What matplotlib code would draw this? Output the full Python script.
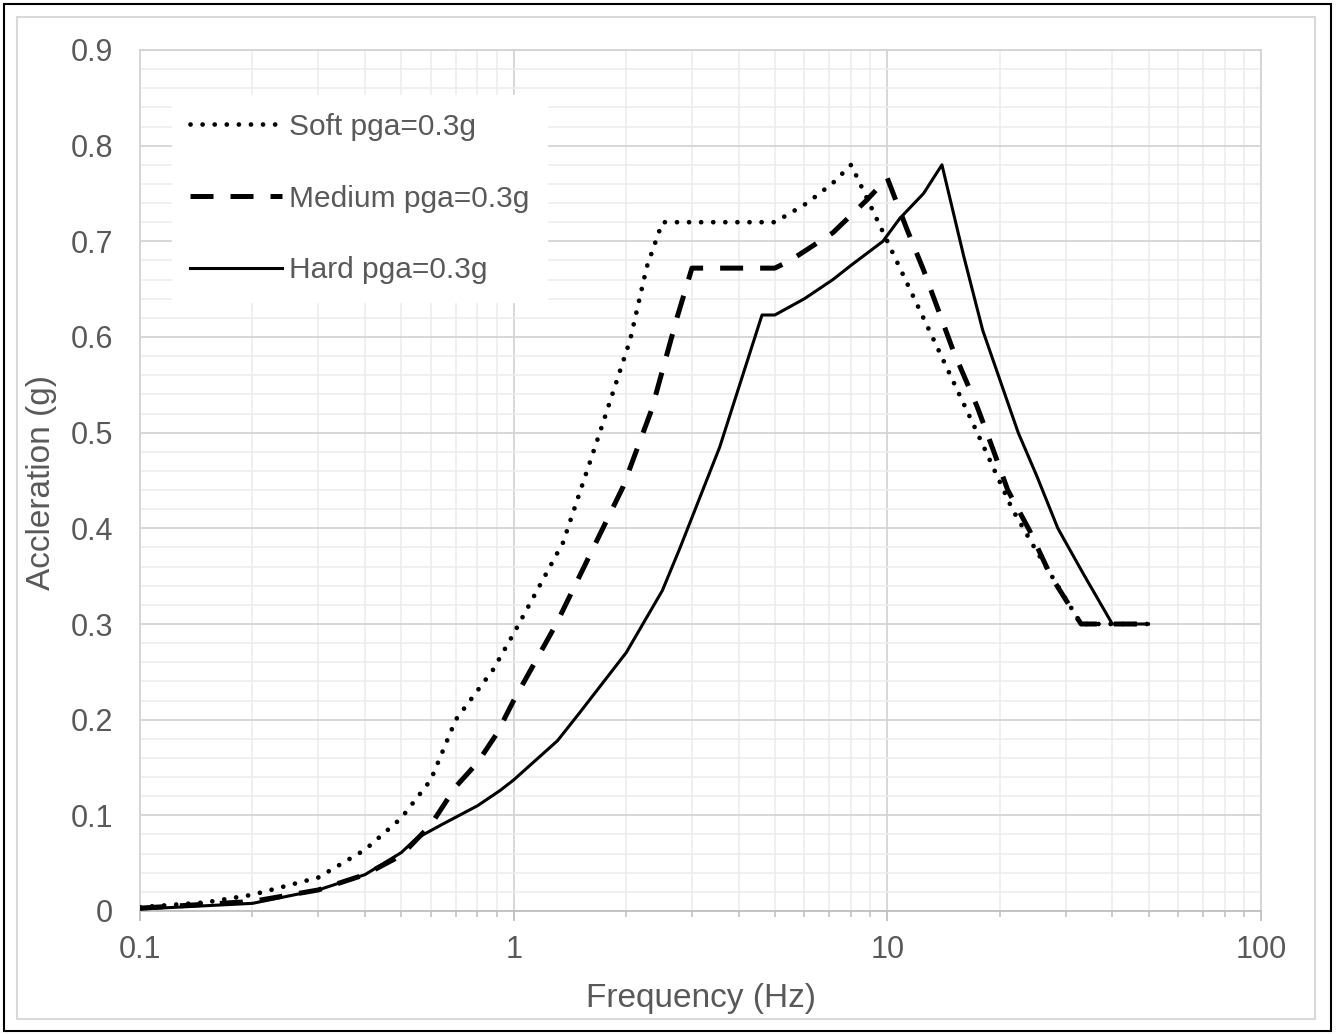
import matplotlib
matplotlib.use("Agg")
import matplotlib.pyplot as plt
from matplotlib.ticker import FixedLocator, NullFormatter, MultipleLocator
from matplotlib.patches import Rectangle

plt.rcParams['font.family'] = ['Liberation Sans', 'DejaVu Sans']

# ---------------- data ----------------
freq_soft = [0.1, 0.15, 0.2, 0.3, 0.4, 0.5, 0.6, 0.7, 0.88, 1.0, 1.355, 1.7, 2.05, 2.27, 2.5,
             5.0, 6.1, 7.15, 8.0, 10.0, 13.2, 17.4, 21.6, 25.0, 33.0, 50.0]
acc_soft = [0.004, 0.009, 0.017, 0.035, 0.064, 0.097, 0.137, 0.2, 0.252, 0.29, 0.385, 0.5, 0.597, 0.673, 0.72,
            0.72, 0.74, 0.761, 0.78, 0.70, 0.6, 0.5, 0.42, 0.377, 0.3, 0.3]

freq_med = [0.1, 0.2, 0.3, 0.4, 0.5, 0.6, 0.7, 0.8, 0.9, 1.0, 1.3, 1.96, 2.34, 2.74, 3.0,
            5.0, 5.5, 7.15, 8.8, 10.0, 11.3, 12.5, 15.0, 17.4, 19.2, 21.0, 24.0, 27.4, 33.0, 50.0]
acc_med = [0.003, 0.01, 0.022, 0.038, 0.058, 0.09, 0.13, 0.155, 0.185, 0.22, 0.30, 0.443, 0.524, 0.621, 0.672,
           0.672, 0.68, 0.709, 0.743, 0.766, 0.712, 0.67, 0.586, 0.527, 0.482, 0.44, 0.398, 0.35, 0.3, 0.3]

freq_hard = [0.1, 0.2, 0.3, 0.4, 0.5, 0.55, 0.647, 0.8, 0.92, 1.0, 1.31, 1.5, 2.0, 2.5, 2.79, 3.56, 4.62,
             5.0, 6.0, 7.15, 8.0, 9.73, 10.8, 12.5, 14.0, 16.0, 18.0, 22.4, 25.1, 28.6, 33.4, 40.0, 50.0]
acc_hard = [0.002, 0.008, 0.022, 0.038, 0.061, 0.076, 0.091, 0.11, 0.126, 0.137, 0.178, 0.207, 0.27, 0.335, 0.38, 0.485, 0.623,
            0.623, 0.64, 0.66, 0.675, 0.70, 0.724, 0.75, 0.78, 0.685, 0.607, 0.5, 0.455, 0.4, 0.353, 0.3, 0.3]

labels = ["Soft pga=0.3g", "Medium pga=0.3g", "Hard pga=0.3g"]
x_ticks = [0.1, 1, 10, 100]
x_tick_labels = ["0.1", "1", "10", "100"]
y_ticks = [0, 0.1, 0.2, 0.3, 0.4, 0.5, 0.6, 0.7, 0.8, 0.9]
y_tick_labels = ["0", "0.1", "0.2", "0.3", "0.4", "0.5", "0.6", "0.7", "0.8", "0.9"]

TXT = "#595959"

fig = plt.figure(figsize=(13.36, 10.34), dpi=100)
ax = fig.add_axes([140 / 1336, 1 - 911 / 1034, 1121 / 1336, 861 / 1034])

# figure borders
fig.patches.append(Rectangle((4 / 1336, 3 / 1034), 1327 / 1336, 1027 / 1034, transform=fig.transFigure,
                             fill=False, edgecolor="black", linewidth=1.5))
fig.patches.append(Rectangle((17 / 1336, 15 / 1034), 1298 / 1336, 1002 / 1034, transform=fig.transFigure,
                             fill=False, edgecolor="#d9d9d9", linewidth=1.5))

ax.plot(freq_soft, acc_soft, color="black", linewidth=3.4, linestyle=(0, (0.01, 2.55)),
        dash_capstyle="round", label=labels[0], zorder=3)
ax.plot(freq_med, acc_med, color="black", linewidth=3.6, linestyle=(0, (4.6, 3.4)),
        dash_capstyle="butt", label=labels[1], zorder=3)
ax.plot(freq_hard, acc_hard, color="black", linewidth=2.2, linestyle="-",
        label=labels[2], zorder=3)

ax.set_xscale("log")
ax.set_xlim(0.1, 100)
ax.set_ylim(0, 0.9)
ax.xaxis.set_major_locator(FixedLocator(x_ticks))
ax.set_xticklabels(x_tick_labels)
ax.xaxis.set_minor_locator(FixedLocator([m * d for d in [0.1, 1, 10] for m in range(2, 10)]))
ax.xaxis.set_minor_formatter(NullFormatter())
ax.set_yticks(y_ticks)
ax.set_yticklabels(y_tick_labels)
ax.yaxis.set_minor_locator(MultipleLocator(0.02))

ax.grid(True, which="major", color="#d4d4d4", linewidth=1.3)
ax.grid(True, which="minor", color="#ececec", linewidth=1.1)
ax.set_axisbelow(True)

for s in ax.spines.values():
    s.set_color("#d4d4d4")
    s.set_linewidth(1.3)
ax.spines["bottom"].set_color("#bfbfbf")

ax.tick_params(axis="x", which="major", length=7, width=1.3, color="#bfbfbf",
               labelsize=22, labelcolor=TXT, pad=10)
ax.tick_params(axis="x", which="minor", length=4, width=1.1, color="#bfbfbf")
ax.tick_params(axis="y", which="both", length=0, labelsize=22, labelcolor=TXT, pad=19.5)

ax.set_xlabel("Frequency (Hz)", fontsize=24, color=TXT, labelpad=13)
ax.set_ylabel("Accleration (g)", fontsize=24, color=TXT)
ax.yaxis.set_label_coords(-0.074, 0.498)

leg = ax.legend(loc="upper left", bbox_to_anchor=((172 - 140) / 1121, (911 - 95) / 861),
                fontsize=21.5, frameon=True, fancybox=False, framealpha=1.0,
                edgecolor="white", handlelength=3.08, handletextpad=0.23,
                labelspacing=1.46, borderpad=0.6, borderaxespad=0)
for t in leg.get_texts():
    t.set_color(TXT)

fig.savefig("out.png", dpi=100)
